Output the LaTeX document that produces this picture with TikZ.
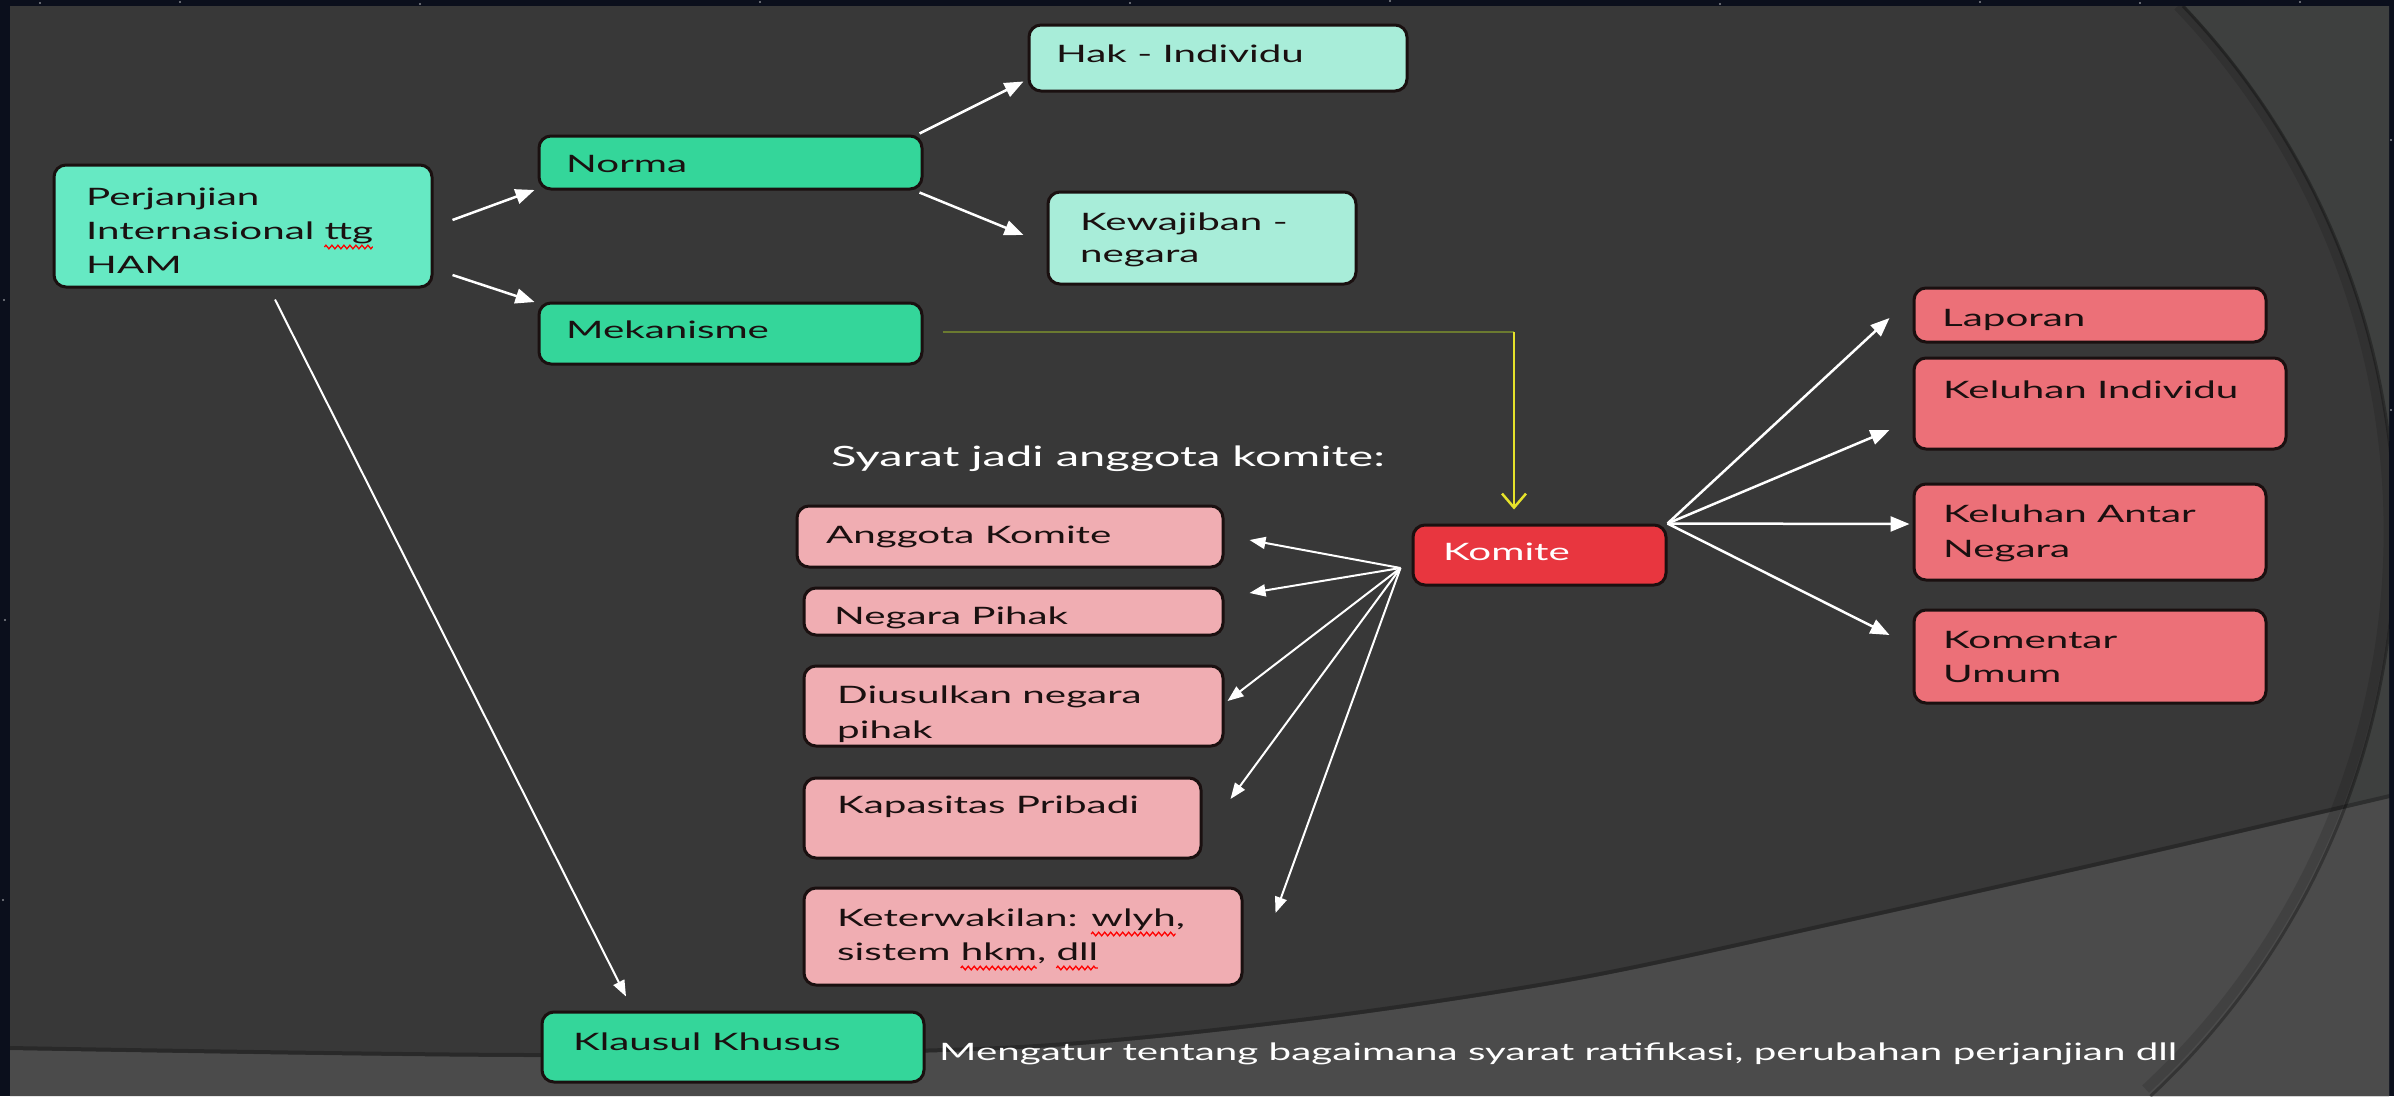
\documentclass[tikz,border=0pt]{standalone}
\usepackage{fontspec}
\setmainfont{Lato}
\usepackage{graphicx}
\usetikzlibrary{arrows.meta,calc,fit,decorations.pathmorphing}

\definecolor{space}{HTML}{0B0F1C}
\definecolor{panel}{HTML}{383838}
\definecolor{panelr}{HTML}{3E403F}
\definecolor{band}{HTML}{4B4B4B}
\definecolor{aqua}{HTML}{66E9C3}
\definecolor{mgreen}{HTML}{34D69A}
\definecolor{mint}{HTML}{A8EDD9}
\definecolor{salmon}{HTML}{EC7078}
\definecolor{komred}{HTML}{E8363F}
\definecolor{pinkb}{HTML}{F0ADB2}
\definecolor{olivel}{HTML}{6B7A30}
\definecolor{yel}{HTML}{E6E22A}
\definecolor{ink}{HTML}{1A1010}

\newcommand{\xs}{1.68}
\newcommand{\wt}[1]{\scalebox{\xs}[1]{\begin{tabular}[t]{@{}l@{}}#1\end{tabular}}}

\tikzset{
  box/.style={draw=ink, line width=3pt, rounded corners=12pt, inner sep=0pt},
  txt/.style={anchor=base west, inner sep=0pt, text=ink, font=\fontsize{24}{34}\selectfont},
  wtxt/.style={txt, text=white},
  arr/.style={draw=white, line width=2.5pt, -{Triangle[length=19pt,width=15pt]}},
  arrs/.style={draw=white, line width=2pt, -{Triangle[length=16pt,width=12pt]}},
  wave/.style={draw=red, line width=1.3pt, decorate, decoration={zigzag, segment length=6pt, amplitude=1.8pt}}
}

\begin{document}
\begin{tikzpicture}[x=1pt,y=-1pt]
\fontsize{24}{34}\selectfont
\useasboundingbox (0,0) rectangle (2394,1096);
% background
\fill[space] (0,0) rectangle (2394,1096);
\foreach \sx/\sy in {40/3,180/2,420/4,760/2,1130/3,1390/1,1720/4,1980/2,2140/3,2300/2,2391/140,2391/410,4/300,5/620,3/900}
  \fill[white, opacity=0.5] (\sx,\sy) circle (1.2);
\begin{scope}
  \clip (10,6) rectangle (2389,1096);
  \fill[panel] (10,6) rectangle (2389,1096);
  \fill[panelr] (2183,6) arc[start angle=-43.68, end angle=47.11, radius=766] -- (2394,1096) -- (2394,0) -- cycle;
  \fill[band] plot[smooth] coordinates {(10,1050) (536,1057) (1000,1050) (1300,1022) (1579,980) (1858,920) (2137,857) (2394,797)} -- (2394,1096) -- (10,1096) -- cycle;
  \draw[black, opacity=0.3, line width=3pt] (2183,6) arc[start angle=-43.68, end angle=47.11, radius=766];
  \draw[black, opacity=0.12, line width=10pt] (2178,6) arc[start angle=-43.68, end angle=47.11, radius=761];
  \draw[black, opacity=0.25, line width=4pt] plot[smooth] coordinates {(10,1048) (536,1055) (1000,1048) (1300,1020) (1579,978) (1858,918) (2137,855) (2394,795)};
\end{scope}

% boxes
\node[box, fill=aqua,   fit={(54,165) (432,287)}]   (perj) {};
\node[box, fill=mgreen, fit={(539,136) (922,189)}]  (norma) {};
\node[box, fill=mgreen, fit={(539,303) (922,364)}]  (mek) {};
\node[box, fill=mint,   fit={(1029,25) (1407,91)}]  (hak) {};
\node[box, fill=mint,   fit={(1048,192) (1356,284)}] (kew) {};
\node[box, fill=salmon, fit={(1914,288) (2266,342)}] (lap) {};
\node[box, fill=salmon, fit={(1914,358) (2286,449)}] (kind) {};
\node[box, fill=salmon, fit={(1914,484) (2266,580)}] (kan) {};
\node[box, fill=salmon, fit={(1914,610) (2266,703)}] (kom) {};
\node[box, fill=komred, fit={(1413,525) (1666,585)}] (komite) {};
\node[box, fill=pinkb,  fit={(797,506) (1223,567)}]  (ang) {};
\node[box, fill=pinkb,  fit={(804,588) (1223,635)}]  (neg) {};
\node[box, fill=pinkb,  fit={(804,666) (1223,746)}]  (diu) {};
\node[box, fill=pinkb,  fit={(804,778) (1201,858)}]  (kap) {};
\node[box, fill=pinkb,  fit={(804,888) (1242,985)}]  (ket) {};
\node[box, fill=mgreen, fit={(542,1012) (924,1082)}] (kla) {};

% texts
\node[txt] (perjt) at (86,205) {\wt{Perjanjian\\Internasional ttg\\HAM}};
\node[txt] (normat) at (566,172) {\wt{Norma}};
\node[txt] (mekt) at (566,338) {\wt{Mekanisme}};
\node[txt] (hakt) at (1056,62) {\wt{Hak - Individu}};
\node[txt, font=\fontsize{24}{32}\selectfont] (kewt) at (1080,230) {\wt{Kewajiban -\\negara}};
\node[txt] (lapt) at (1942,326) {\wt{Laporan}};
\node[txt] (kindt) at (1943,398) {\wt{Keluhan Individu}};
\node[txt, font=\fontsize{24}{35}\selectfont] (kant) at (1943,522) {\wt{Keluhan Antar\\Negara}};
\node[txt] (komt) at (1943,648) {\wt{Komentar\\Umum}};
\node[wtxt] (komitet) at (1443,560) {\wt{Komite}};
\node[wtxt, font=\fontsize{28}{34}\selectfont] (syarat) at (831,466) {\wt{Syarat jadi anggota komite:}};
\node[txt] (angt) at (826,543) {\wt{Anggota Komite}};
\node[txt] (negt) at (834,624) {\wt{Negara Pihak}};
\node[txt, font=\fontsize{24}{35}\selectfont] (diut) at (837,703) {\wt{Diusulkan negara\\pihak}};
\node[txt] (kapt) at (837,813) {\wt{Kapasitas Pribadi}};
\node[txt] (kett) at (837,926) {\wt{Keterwakilan: wlyh,\\sistem hkm, dll}};
\node[txt] (klat) at (573,1050) {\wt{Klausul Khusus}};
\node[wtxt] (meng) at (939,1060) {\wt{Mengatur tentang bagaimana syarat ratifikasi, perubahan perjanjian dll}};

% spell-check squiggles
\draw[wave] ($(perjt.base west)+({\xs*(width("Internasional ttg")-width("ttg"))},42)$) -- ++({\xs*width("ttg")},0);
\draw[wave] ($(kett.base west)+({\xs*(width("Keterwakilan: wlyh")-width("wlyh"))},8)$) -- ++({\xs*width("wlyh")},0);
\draw[wave] ($(kett.base west)+({\xs*(width("sistem hkm")-width("hkm"))},42)$) -- ++({\xs*width("hkm")},0);
\draw[wave] ($(kett.base west)+({\xs*(width("sistem hkm, dll")-width("dll"))},42)$) -- ++({\xs*width("dll")},0);

% connectors
\draw[arr] ($(perj.east)+(19,-6)$) -- ($(norma.west)+(-3,27.5)$);
\draw[arr] ($(perj.east)+(19,49)$) -- ($(mek.west)+(-3,-31.5)$);
\draw[arr] ($(norma.north east)+(-4,-1)$) -- ($(hak.south west)+(-4,-11)$);
\draw[arr] ($(norma.south east)+(-4,2)$) -- ($(kew.west)+(-23,-3)$);
\draw[arrs] ($(perj.south)+(32,11)$) -- ($(kla.north)+(-107,-14)$);

\coordinate (ycorner) at (1514,332);
\draw[olivel, line width=2pt] ($(mek.east)+(19,-1.5)$) -- (ycorner);
\draw[yel, line width=2.5pt, -{Straight Barb[length=14pt,width=24pt]}] (ycorner) -- ($(komite.north)+(-25.5,-14)$);

\coordinate (kl) at ($(komite.west)+(-11,13)$);
\draw[arrs] (kl) -- ($(ang.east)+(25,3.5)$);
\draw[arrs] (kl) -- ($(neg.east)+(25,-18.5)$);
\draw[arrs] (kl) -- ($(diu.east)+(3,-5)$);
\draw[arrs] (kl) -- ($(kap.east)+(28,-19)$);
\draw[arrs] (kl) -- ($(ket.east)+(32,-23.5)$);

\draw[arr] (komite.north east) -- ($(lap.west)+(-23,3)$);
\draw[arr] (komite.north east) -- ($(kind.west)+(-23,26.5)$);
\draw[arr] (komite.north east) -- ($(kan.west)+(-3,-8)$);
\draw[arr] (komite.north east) -- ($(kom.west)+(-23,-21.5)$);
\end{tikzpicture}
\end{document}
